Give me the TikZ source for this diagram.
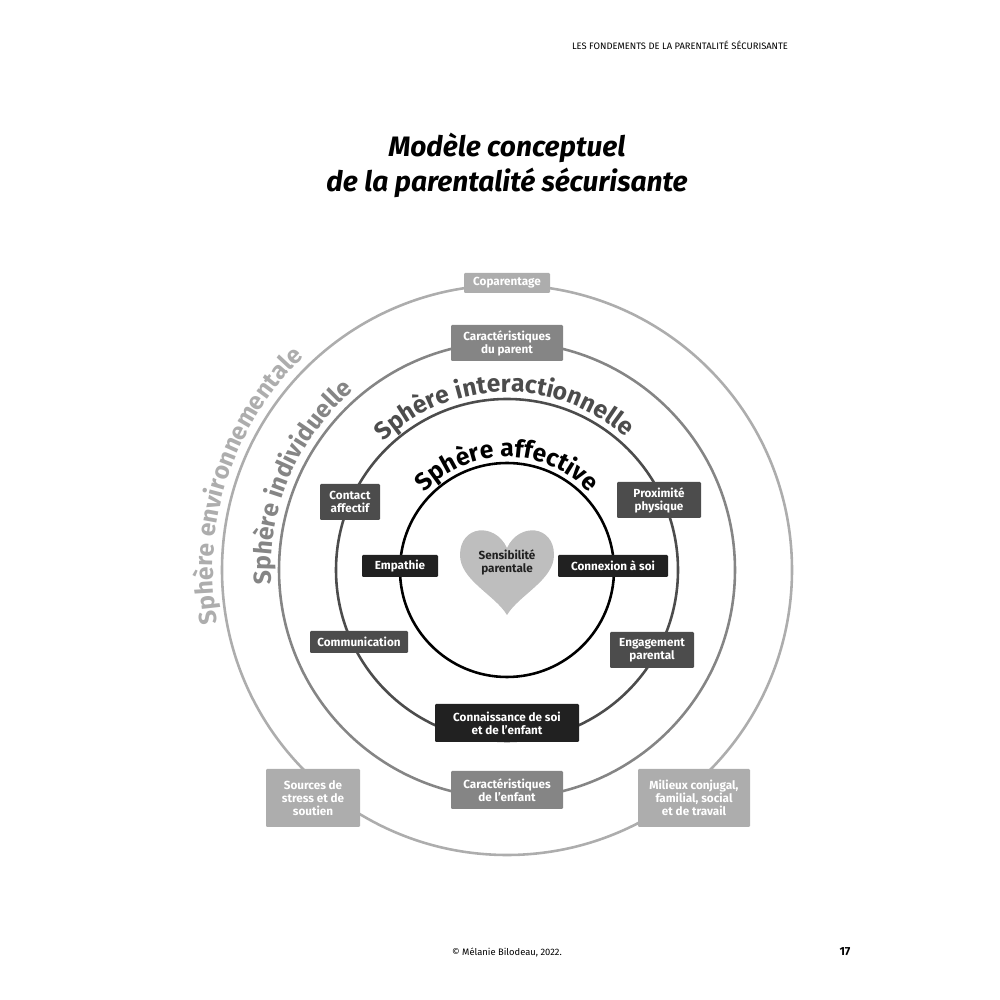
\documentclass[tikz,border=0pt]{standalone}
\usepackage{fontspec}
\setmainfont{Fira Sans}
\usetikzlibrary{decorations.text}
\definecolor{envgray}{gray}{0.68}
\definecolor{indgray}{gray}{0.52}
\definecolor{intgray}{gray}{0.30}
\definecolor{affgray}{gray}{0.13}
\begin{document}
\begin{tikzpicture}[x=0.03cm,y=0.03cm]
	\tikzstyle{box}=[rectangle,text=white,font=\fontsize{10}{11}\selectfont\bfseries,align=center,inner sep=2pt,rounded corners=1pt]
	\tikzstyle{ring}=[line width=2.2pt]
	\useasboundingbox (0,0) rectangle (1000,1000);
	\coordinate (c) at (507,430);
	
	% cercles
	\draw[ring,envgray] (c) circle (285);
	\draw[ring,indgray] (c) circle (228);
	\draw[ring,intgray] (c) circle (171);
	\draw[ring,black] (c) circle (107);
	
	% textes courbes
	\path[decorate,decoration={text along path,text align=center,text color=black,
		text={|\fontsize{21}{21}\selectfont\bfseries|Sphère affective}}]
		(c) ++(146:113) arc[start angle=146,end angle=34,radius=113];
	\path[decorate,decoration={text along path,text align=center,text color=intgray,
		text={|\fontsize{21}{21}\selectfont\bfseries|Sphère interactionnelle}}]
		(c) ++(146:178) arc[start angle=146,end angle=36,radius=178];
	\path[decorate,decoration={text along path,text align=center,text color=indgray,
		text={|\fontsize{21}{21}\selectfont\bfseries|Sphère individuelle}}]
		(c) ++(190:236) arc[start angle=190,end angle=124,radius=236];
	\path[decorate,decoration={text along path,text align=center,text color=envgray,
		text={|\fontsize{21}{21}\selectfont\bfseries|Sphère environnementale}}]
		(c) ++(197:294) arc[start angle=197,end angle=127,radius=294];
	
	% coeur
	\fill[envgray!80] (507,452) .. controls (495,478) and (460,475) .. (460,445)
		.. controls (460,420) and (495,405) .. (507,385)
		.. controls (519,405) and (554,420) .. (554,445)
		.. controls (554,475) and (519,478) .. (507,452) -- cycle;
	\node[font=\fontsize{10}{11}\selectfont\bfseries,text=affgray,align=center](sens) at (507,438){Sensibilité\\parentale};
	
	% boites
	\node[box,fill=envgray,minimum width=86*0.03cm,minimum height=20*0.03cm](copar) at (507,717){Coparentage};
	\node[box,fill=indgray,minimum width=112*0.03cm,minimum height=36*0.03cm](carpar) at (507,657){Caractéristiques\\du parent};
	\node[box,fill=intgray,minimum width=60*0.03cm,minimum height=36*0.03cm](contact) at (350,498){Contact\\affectif};
	\node[box,fill=intgray,minimum width=84*0.03cm,minimum height=36*0.03cm](proxi) at (659,500){Proximité\\physique};
	\node[box,fill=affgray,minimum width=76*0.03cm,minimum height=22*0.03cm](empa) at (400,434){Empathie};
	\node[box,fill=affgray,minimum width=110*0.03cm,minimum height=22*0.03cm](connex) at (613,434){Connexion à soi};
	\node[box,fill=intgray,minimum width=98*0.03cm,minimum height=22*0.03cm](comm) at (359,358){Communication};
	\node[box,fill=intgray,minimum width=84*0.03cm,minimum height=36*0.03cm](engag) at (652,350){Engagement\\parental};
	\node[box,fill=affgray,minimum width=144*0.03cm,minimum height=38*0.03cm](connais) at (507,277){Connaissance de soi\\et de l'enfant};
	\node[box,fill=indgray,minimum width=112*0.03cm,minimum height=38*0.03cm](carenf) at (507,210){Caractéristiques\\de l'enfant};
	\node[box,fill=envgray,minimum width=94*0.03cm,minimum height=58*0.03cm](stress) at (313,202){Sources de\\stress et de\\soutien};
	\node[box,fill=envgray,minimum width=112*0.03cm,minimum height=58*0.03cm](milieux) at (694,202){Milieux conjugal,\\familial, social\\et de travail};
	
	% titres
	\node[font=\fontsize{8}{9}\selectfont](entete) at (680,955){LES FONDEMENTS DE LA PARENTALITÉ SÉCURISANTE};
	\node[font=\fontsize{24}{30}\selectfont\bfseries\itshape,align=center](titre) at (507,835){Modèle conceptuel\\de la parentalité sécurisante};
	\node[font=\fontsize{8}{9}\selectfont](copy) at (507,47){© Mélanie Bilodeau, 2022.};
	\node[font=\fontsize{10}{11}\selectfont\bfseries](page) at (845,48){17};
\end{tikzpicture}
\end{document}
